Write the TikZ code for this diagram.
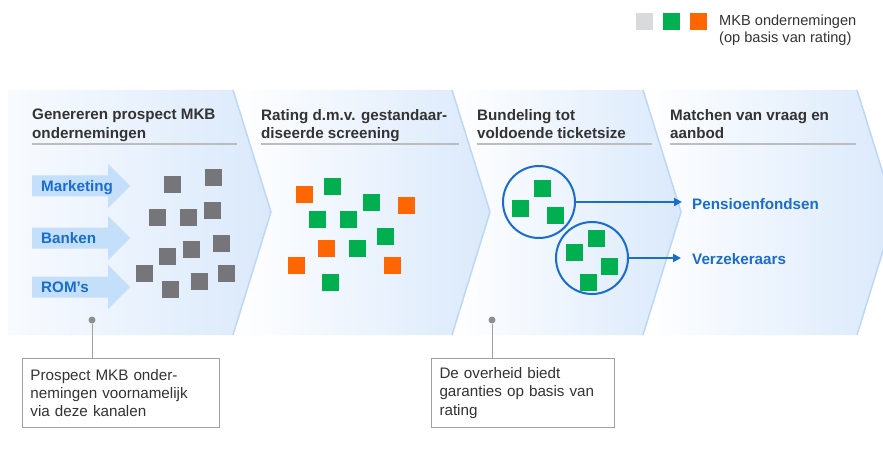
\documentclass[tikz,border=0pt]{standalone}
\usepackage{fontspec}
\setmainfont{Liberation Sans}
\usetikzlibrary{arrows.meta}
\definecolor{chevblue}{HTML}{DAE9FB}
\definecolor{edgeblue}{HTML}{BDD8F6}
\definecolor{arrowblue}{HTML}{C4DFFA}
\definecolor{txtblue}{HTML}{1A6DCC}
\definecolor{hdrgrey}{HTML}{333333}
\definecolor{rulegrey}{HTML}{BDBDBD}
\definecolor{sqgrey}{HTML}{76767A}
\definecolor{sqgreen}{HTML}{00B050}
\definecolor{sqorange}{HTML}{FF6600}
\definecolor{sqlight}{HTML}{D9DADC}
\definecolor{boxgrey}{HTML}{A0A0A0}
\definecolor{dotgrey}{HTML}{8E8E8E}
\newcommand\myhdrfont{\fontsize{15.2}{18.3}\selectfont\bfseries}
\newcommand\mytxtfont{\fontsize{15.2}{18.3}\selectfont}
\newcommand\mylegfont{\fontsize{14.6}{17}\selectfont}
\newcommand\blkarrow[1]{%
  \fill[arrowblue] (32,#1-10.5) -- (108,#1-10.5) -- (108,#1-22) -- (130,#1)
    -- (108,#1+22) -- (108,#1+10.5) -- (32,#1+10.5) -- cycle;}
\begin{document}
\begin{tikzpicture}[x=1pt,y=-1pt,
  hdr/.style={anchor=north west,inner sep=0pt,align=left,font=\myhdrfont,text=hdrgrey},
  hrule/.style={rulegrey,line width=2pt},
  edge/.style={edgeblue,line width=1.5pt},
  blbl/.style={anchor=base west,inner sep=0pt,font=\myhdrfont,text=txtblue},
  circ/.style={circle,draw=txtblue,line width=2pt,minimum size=72pt,inner sep=0pt},
  conn/.style={txtblue,line width=2pt,-{Triangle[length=8pt,width=8pt]}},
  cbox/.style={draw=boxgrey,line width=1pt,fill=white,anchor=north west,
    text width=181pt,inner xsep=8pt,inner ysep=0pt,minimum width=197pt,
    minimum height=69pt,align=left,font=\mytxtfont,text=hdrgrey},
  dot/.style={circle,fill=dotgrey,inner sep=0pt,minimum size=7pt},
  lead/.style={boxgrey,line width=1pt}]
\useasboundingbox (0,0) rectangle (883,457);
\fill[white] (0,0) rectangle (883,457);
% chevrons
\shade[left color=chevblue!20,right color=chevblue] (8,90) -- (233,90) -- (271,212) -- (233,335) -- (8,335) -- cycle;
\shade[left color=white,right color=chevblue] (233,90) -- (452,90) -- (490,212) -- (452,335) -- (233,335) -- (271,212) -- cycle;
\shade[left color=white,right color=chevblue] (452,90) -- (643,90) -- (681,212) -- (643,335) -- (452,335) -- (490,212) -- cycle;
\shade[left color=white,right color=chevblue] (643,90) -- (857,90) -- (895,212) -- (857,335) -- (643,335) -- (681,212) -- cycle;
\draw[edge] (233,90) -- (271,212) -- (233,335);
\draw[edge] (452,90) -- (490,212) -- (452,335);
\draw[edge] (643,90) -- (681,212) -- (643,335);
\draw[edge] (857,90) -- (895,212) -- (857,335);
% headers
\node[hdr] (h1) at (32,109) {Genereren prospect MKB\\ondernemingen};
\node[hdr] (h2) at (261,109) {Rating d.m.v. gestandaar-\\diseerde screening};
\node[hdr] (h3) at (477,109) {Bundeling tot\\voldoende ticketsize};
\node[hdr] (h4) at (670,109) {Matchen van vraag en\\aanbod};
\draw[hrule] (32,144) -- (237,144);
\draw[hrule] (261,144) -- (459,144);
\draw[hrule] (477,144) -- (652,144);
\draw[hrule] (670,144) -- (856,144);
% block arrows
\blkarrow{186}
\blkarrow{238}
\blkarrow{287}
\node[blbl] (mkt) at (41,192) {Marketing};
\node[blbl] (bnk) at (41,243.5) {Banken};
\node[blbl] (rom) at (41,292.5) {ROM’s};
% grey squares
\foreach \x/\y in {164/176,205/169,149/209,180/209,204/202,159/248,183/241,213/235,136/265,162/281,191/273,218/265}
  \fill[sqgrey] (\x,\y) rectangle ++(17,17);
% rated squares
\foreach \x/\y in {296/186,398/197,318/240,288/257,384/257}
  \fill[sqorange] (\x,\y) rectangle ++(17,17);
\foreach \x/\y in {324/178,363/194,309/211,340/211,377/228,349/240,322/274}
  \fill[sqgreen] (\x,\y) rectangle ++(17,17);
% bundles
\node[circ] (c1) at (539,202) {};
\node[circ] (c2) at (592,258) {};
\foreach \x/\y in {534/180,512/200,547/207,588/230,566/244,601/258,580/274}
  \fill[sqgreen] (\x,\y) rectangle ++(17,17);
\node[blbl] (pens) at (692,209) {Pensioenfondsen};
\node[blbl] (verz) at (692,264) {Verzekeraars};
\draw[conn,shorten >=10pt] (c1.east) -- (c1.east -| pens.west);
\draw[conn,shorten >=11pt] (c2.east) -- (c2.east -| verz.west);
% legend
\fill[sqlight] (636,13) rectangle ++(17,17);
\fill[sqgreen] (663,13) rectangle ++(17,17);
\fill[sqorange] (690,13) rectangle ++(17,17);
\node[anchor=north west,inner sep=0pt,align=left,font=\mylegfont,text=hdrgrey] (leg) at (719,15) {MKB ondernemingen\\(op basis van rating)};
% callouts
\node[cbox] (b1) at (22,358) {Prospect MKB onder-\\nemingen voornamelijk\\via deze kanalen};
\node[cbox,text width=167pt,minimum width=183pt] (b2) at (431,358) {De overheid biedt\\garanties op basis van\\rating};
\node[dot] (d1) at (92,320) {};
\node[dot] (d2) at (492,320) {};
\draw[lead] (d1) -- (d1 |- b1.north);
\draw[lead] (d2) -- (d2 |- b2.north);
\end{tikzpicture}
\end{document}
